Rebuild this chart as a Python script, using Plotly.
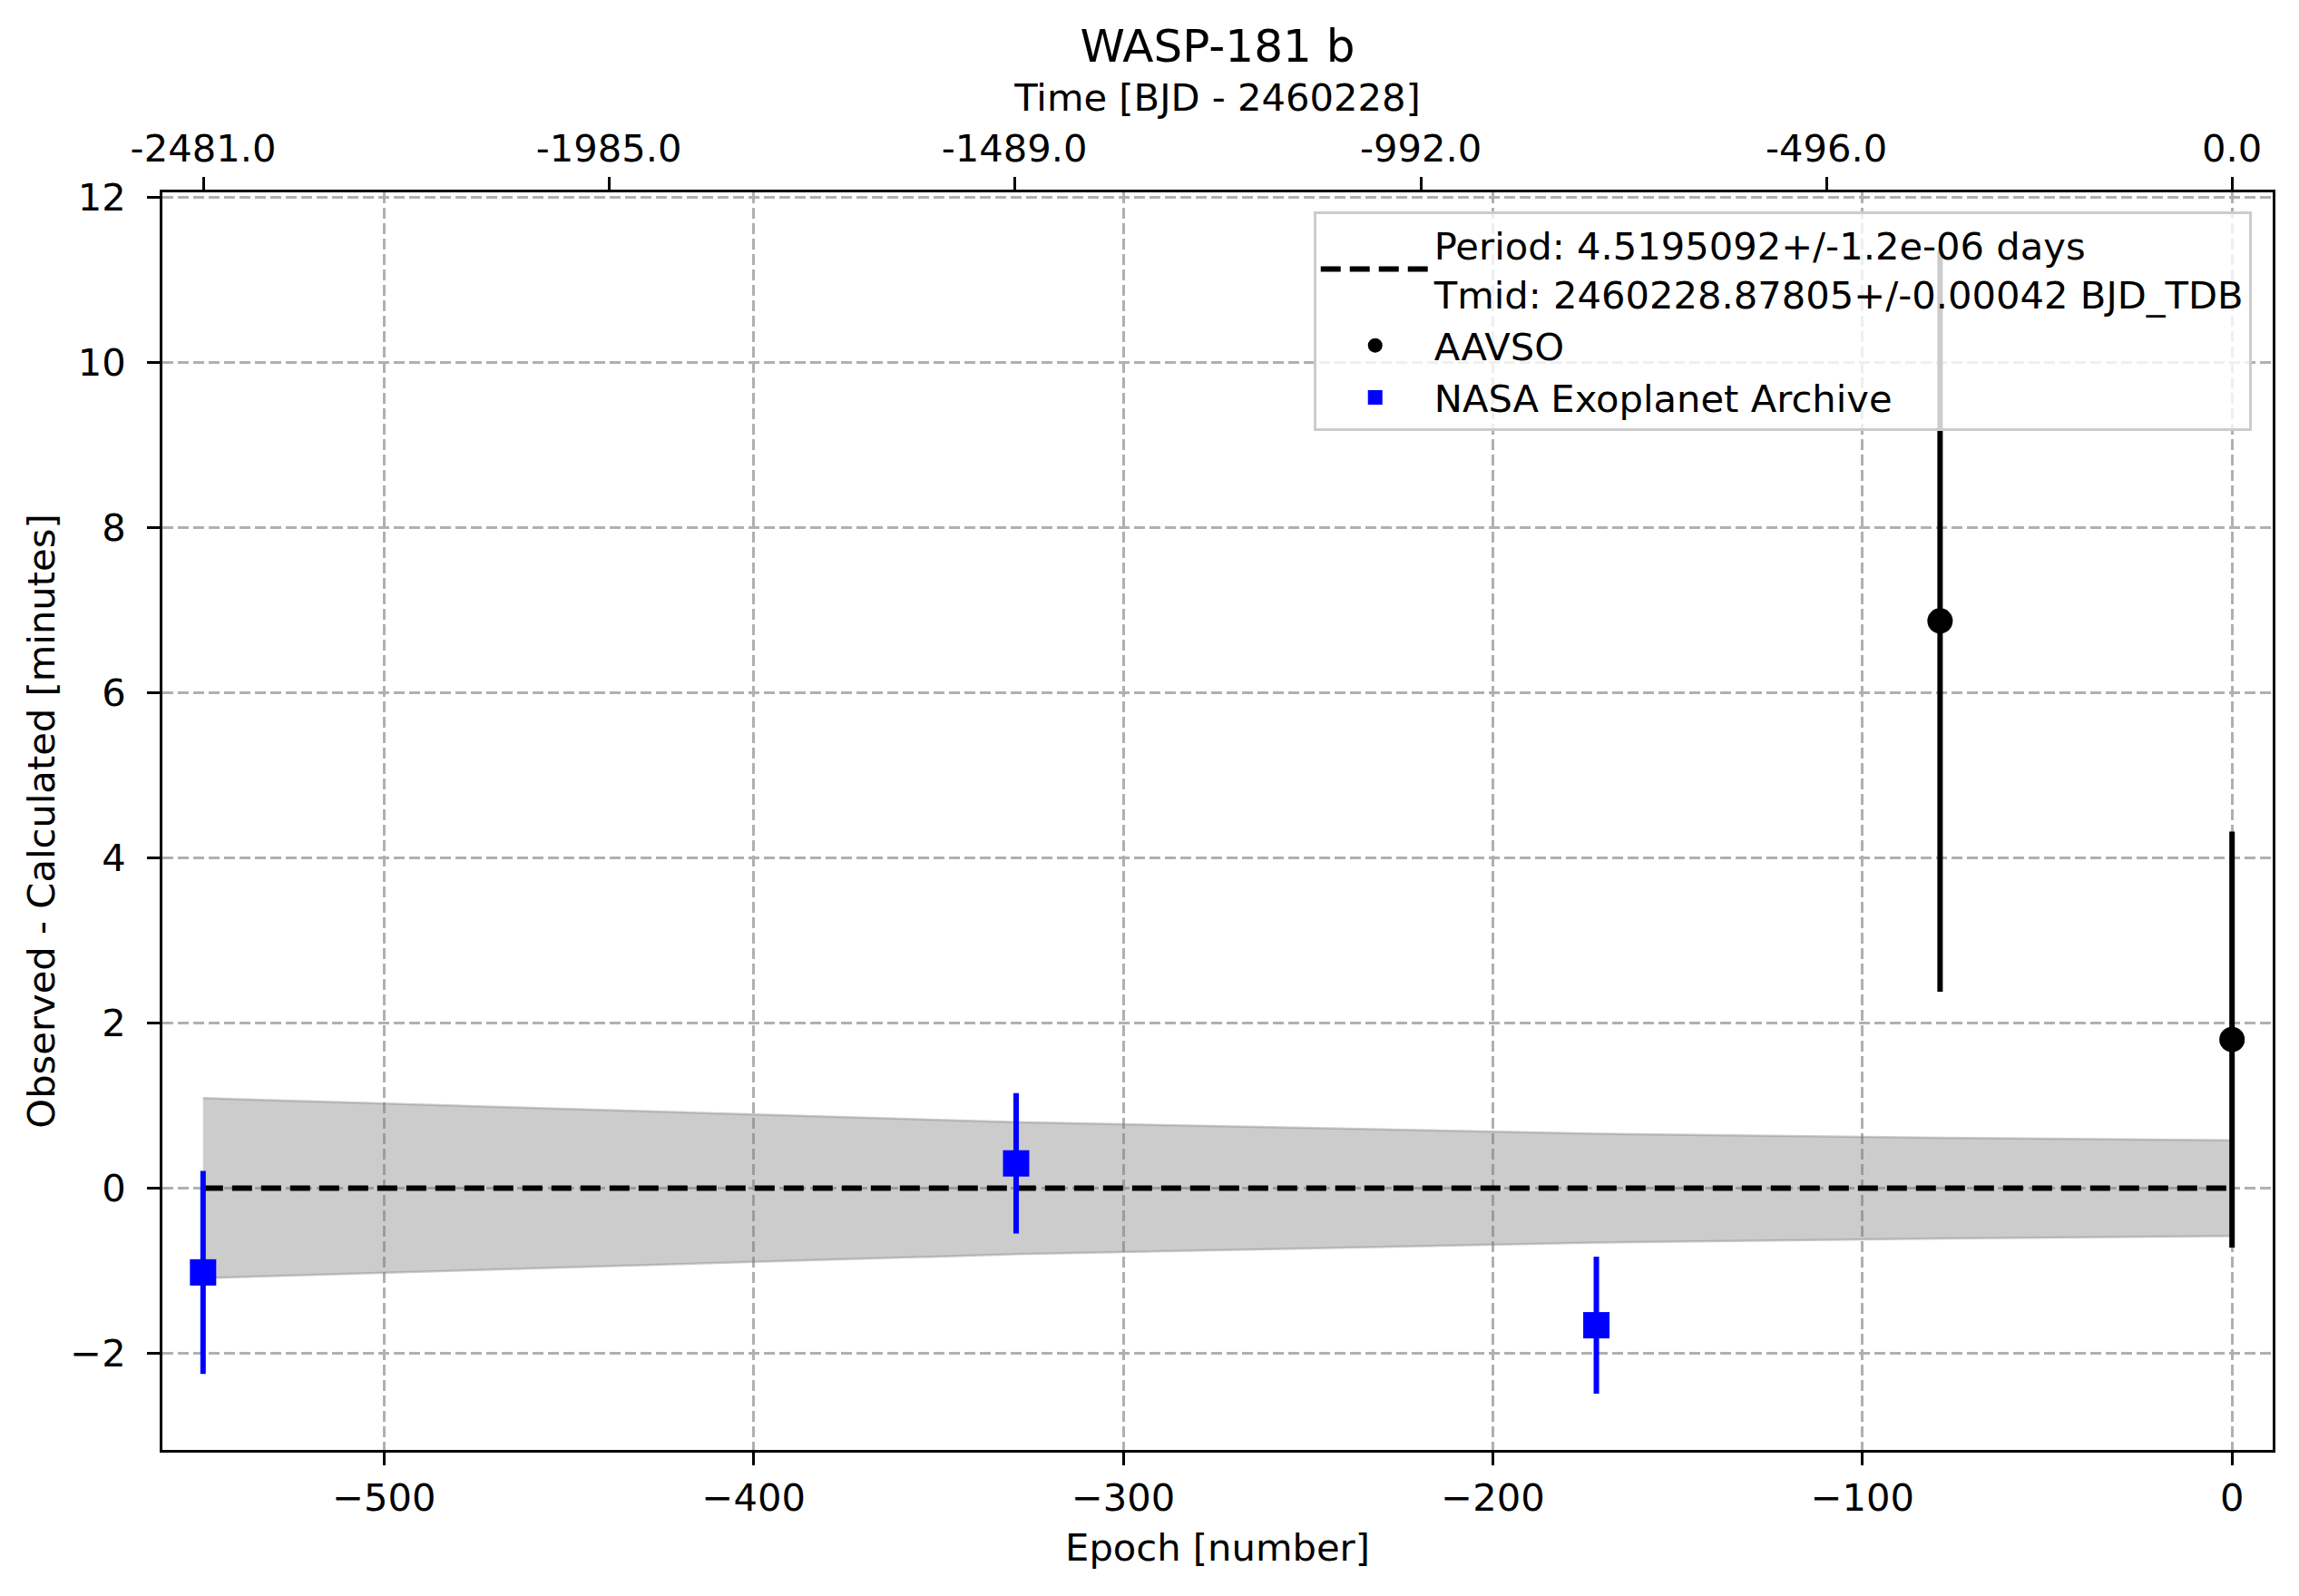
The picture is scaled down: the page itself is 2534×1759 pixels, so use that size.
import plotly.graph_objects as go

# ---- data ----
period_days = 4.5195092
aavso_epoch = [-79, 0]
aavso_oc = [6.87, 1.80]
aavso_err = [4.49, 2.52]

nasa_epoch = [-549, -329, -172]
nasa_oc = [-1.02, 0.30, -1.66]
nasa_err = [1.23, 0.85, 0.83]

band_epoch = [-549, -329, -172, -79, 0]
band_upper = [1.09, 0.80, 0.66, 0.61, 0.58]
band_lower = [-1.09, -0.80, -0.66, -0.61, -0.58]

fit_epoch = [-549, 0]
fit_oc = [0.0, 0.0]

x_ticks = [-500, -400, -300, -200, -100, 0]
x_ticktext = ["\u2212500", "\u2212400", "\u2212300", "\u2212200", "\u2212100", "0"]
y_ticks = [-2, 0, 2, 4, 6, 8, 10, 12]
y_ticktext = ["\u22122", "0", "2", "4", "6", "8", "10", "12"]
time_ticks = [-2481.0, -1985.0, -1489.0, -992.0, -496.0, 0.0]
time_ticktext = ["-2481.0", "-1985.0", "-1489.0", "-992.0", "-496.0", "0.0"]

fit_label = ("Period: 4.5195092+/-1.2e-06 days<br>"
             "Tmid: 2460228.87805+/-0.00042 BJD_TDB")

x_range = [-560, 11]
y_range = [-3.17, 12.06]

FONT = "DejaVu Sans"
FS = 41.67
TFS = 50

fig = go.Figure()

# uncertainty band
fig.add_trace(go.Scatter(x=band_epoch, y=band_lower, mode="lines",
                         line=dict(color="rgba(128,128,128,0.4)", width=2.5),
                         showlegend=False, hoverinfo="skip"))
fig.add_trace(go.Scatter(x=band_epoch, y=band_upper, mode="lines",
                         line=dict(color="rgba(128,128,128,0.4)", width=2.5),
                         fill="tonexty", fillcolor="rgba(128,128,128,0.4)",
                         showlegend=False, hoverinfo="skip"))

# fit line
fig.add_trace(go.Scatter(x=fit_epoch, y=fit_oc, mode="lines",
                         line=dict(color="black", width=6, dash="22px,10px"),
                         name=fit_label, legendgroup="fit"))

# AAVSO
fig.add_trace(go.Scatter(x=aavso_epoch, y=aavso_oc, mode="markers",
                         marker=dict(color="black", size=28, symbol="circle"),
                         error_y=dict(type="data", array=aavso_err, color="black",
                                      thickness=6, width=0),
                         name="AAVSO", legendgroup="aavso"))

# NASA
fig.add_trace(go.Scatter(x=nasa_epoch, y=nasa_oc, mode="markers",
                         marker=dict(color="blue", size=29, symbol="square"),
                         error_y=dict(type="data", array=nasa_err, color="blue",
                                      thickness=6, width=0),
                         name="NASA Exoplanet Archive", legendgroup="nasa"))

# empty helper trace so the top (time) axis is drawn
fig.add_trace(go.Scatter(x=[], y=[], xaxis="x2", yaxis="y", mode="markers",
                         showlegend=False, hoverinfo="skip"))

axis_common = dict(
    ticks="outside", ticklen=14, tickwidth=3, tickcolor="black",
    showline=True, linecolor="black", linewidth=3,
    tickfont=dict(family=FONT, size=FS, color="black"),
    zeroline=False,
)

W, H = 2526, 1751
fig.update_layout(
    width=W, height=H,
    margin=dict(l=171, r=29, t=204, b=161),
    plot_bgcolor="white", paper_bgcolor="white",
    font=dict(family=FONT, size=FS, color="black"),
    title=dict(text="WASP-181 b", font=dict(family=FONT, size=TFS, color="black"),
               x=0.5, xref="paper", xanchor="center",
               y=1 - 42 / H, yref="container", yanchor="middle"),
    xaxis=dict(range=x_range, tickvals=x_ticks, ticktext=x_ticktext,
               mirror=True, showgrid=True, gridcolor="#b0b0b0", gridwidth=3,
               griddash="12px,5px",
               title=dict(text="Epoch [number]", font=dict(family=FONT, size=FS),
                          standoff=17),
               **axis_common),
    xaxis2=dict(range=[x_range[0] * period_days, x_range[1] * period_days],
                tickvals=time_ticks, ticktext=time_ticktext,
                overlaying="x", side="top", anchor="y", showgrid=False,
                title=dict(text="Time [BJD - 2460228]", font=dict(family=FONT, size=FS),
                           standoff=4),
                **axis_common),
    yaxis=dict(range=y_range, tickvals=y_ticks, ticktext=y_ticktext,
               mirror=True, showgrid=True, gridcolor="#b0b0b0", gridwidth=3,
               griddash="12px,5px", ticklabelstandoff=15,
               title=dict(text="Observed - Calculated [minutes]",
                          font=dict(family=FONT, size=FS), standoff=4),
               **axis_common),
    legend=dict(x=0.990, y=0.985, xanchor="right", yanchor="top",
                traceorder="normal",
                bgcolor="rgba(255,255,255,0.8)", bordercolor="#cccccc",
                borderwidth=3, font=dict(family=FONT, size=FS, color="black"),
                itemwidth=120, tracegroupgap=17),
)

fig.write_html("out.html")
